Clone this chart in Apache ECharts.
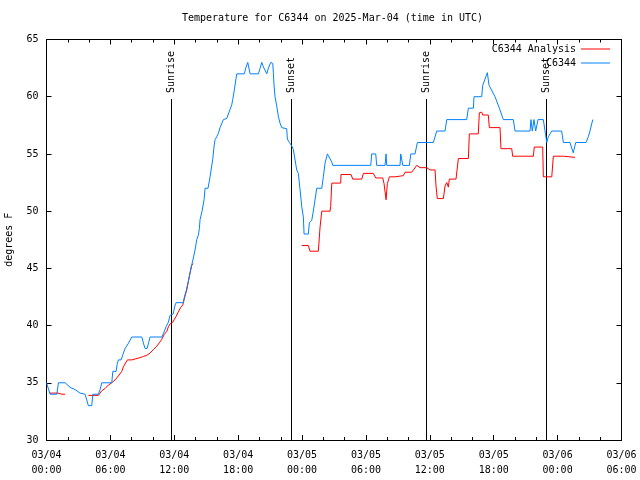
<!DOCTYPE html>
<html>
<head>
<meta charset="utf-8">
<script src="https://cdn.jsdelivr.net/npm/echarts@6/dist/echarts.min.js"></script>
<style>
html,body{margin:0;padding:0;background:#fff;}
#chart{width:640px;height:480px;}
</style>
</head>
<body>
<div id="chart"></div>
<script>
// Hours since 2025-03-04 00:00 UTC
var xTickLabels = ['03/04\n00:00','03/04\n06:00','03/04\n12:00','03/04\n18:00','03/05\n00:00','03/05\n06:00','03/05\n12:00','03/05\n18:00','03/06\n00:00','03/06\n06:00'];

var analysisSeg1 = [[0.30,34.1],[1.09,34.1],[1.44,34.0],[1.75,34.0]];
var analysisSeg2 = [[3.93,33.9],[4.87,33.9],[5.03,34.1],[5.19,34.3],[5.50,34.5],[5.81,34.8],[6.13,35.0],[6.44,35.25],[6.75,35.6],[7.07,36.0],[7.22,36.4],[7.60,37.0],[8.01,37.0],[8.16,37.1],[8.79,37.2],[9.10,37.3],[9.42,37.4],[9.73,37.6],[10.04,37.9],[10.36,38.2],[10.60,38.5],[10.83,38.8],[11.04,39.2],[11.30,39.5],[11.45,39.9],[11.61,40.15],[11.86,40.3],[11.98,40.5],[12.17,40.8],[12.38,41.2],[12.61,41.6],[12.80,41.8],[12.85,42.0],[13.01,42.6],[13.17,43.1],[13.32,43.85],[13.48,44.6],[13.64,45.3],[13.79,45.4]];
var analysisSeg3 = [[23.97,47.0],[24.59,47.0],[24.75,46.5],[25.53,46.5],[25.69,48.6],[25.85,50.0],[26.63,50.0],[26.69,50.4],[26.79,52.45],[27.63,52.45],[27.66,53.2],[28.60,53.2],[28.76,52.8],[29.61,52.8],[29.76,53.3],[30.69,53.3],[30.92,52.9],[31.58,52.9],[31.70,52.4],[31.89,51.0],[32.01,52.4],[32.20,53.0],[32.73,53.0],[32.82,53.1],[33.51,53.1],[33.67,53.4],[34.30,53.4],[34.45,53.5],[34.77,54.0],[35.08,53.8],[35.71,53.8],[36.02,53.6],[36.49,53.6],[36.58,52.2],[36.70,51.1],[37.27,51.1],[37.43,52.2],[37.59,52.5],[37.74,52.1],[37.83,52.8],[38.46,52.8],[38.68,54.6],[39.62,54.6],[39.71,56.75],[40.55,56.75],[40.65,58.6],[40.87,58.65],[40.97,58.4],[41.49,58.4],[41.59,57.3],[42.59,57.3],[42.68,55.46],[43.69,55.46],[43.78,54.8],[45.72,54.8],[45.81,55.6],[46.60,55.6],[46.66,53.0],[47.45,53.0],[47.60,54.8],[48.54,54.8],[48.69,54.7],[49.63,54.7]];

var observed = [[0.0,35],[0.34,34],[0.97,34],[1.12,35],[1.75,35],[2.22,34.6],[2.69,34.4],[3.15,34.1],[3.62,34.0],[3.78,33.5],[3.93,33],[4.25,33],[4.35,34],[4.87,34],[5.03,34.4],[5.19,35],[6.13,35],[6.23,36],[6.54,36],[6.63,36.6],[6.75,37],[7.00,37],[7.19,37.5],[7.38,38],[7.66,38.4],[8.01,39],[8.95,39],[9.12,38.4],[9.26,38],[9.45,38],[9.59,38.5],[9.73,39],[10.85,39],[10.98,39.3],[11.23,39.9],[11.45,40.3],[11.54,40.65],[11.61,40.9],[11.77,40.9],[11.89,41],[12.08,41.8],[12.17,42],[12.85,42],[12.95,42.5],[13.11,43],[13.23,43.5],[13.32,43.85],[13.48,44.6],[13.64,45.3],[13.79,45.9],[13.95,46.6],[14.11,47.5],[14.26,47.9],[14.36,48.5],[14.42,49.25],[14.61,50],[14.80,51],[14.89,52],[15.17,52],[15.36,53],[15.62,54.6],[15.74,55.7],[15.83,56.25],[15.99,56.5],[16.14,56.8],[16.30,57.3],[16.61,58],[16.93,58.1],[17.24,58.9],[17.40,59.3],[17.49,59.75],[17.64,60.6],[17.80,61.6],[17.87,62],[18.58,62],[18.71,62.5],[18.90,63],[19.12,62],[19.90,62],[20.06,62.5],[20.22,63],[20.37,62.6],[20.69,62],[20.84,62.5],[21.06,63],[21.25,62.9],[21.31,62],[21.37,61],[21.46,60],[21.62,59.2],[21.77,58.3],[21.93,57.7],[22.09,57.3],[22.56,57.2],[22.62,56.3],[22.81,56],[23.03,55.7],[23.18,55.4],[23.50,53.6],[23.65,53.3],[23.81,51.9],[23.97,50.4],[24.12,49.5],[24.19,48],[24.59,48],[24.69,49],[24.91,49.2],[25.06,50],[25.22,50.1],[25.38,52],[25.85,52],[26.00,53],[26.16,54.2],[26.38,55],[26.56,55],[26.79,54.3],[26.88,54],[30.45,54],[30.54,55],[30.92,55],[31.01,54],[31.79,54],[31.89,55],[31.95,54],[33.20,54],[33.27,55],[33.36,55],[33.46,54],[34.08,54],[34.21,55],[34.61,55],[34.83,56],[36.33,56],[36.65,57],[37.43,57],[37.59,58],[39.46,58],[39.62,59],[40.09,59],[40.15,60],[40.87,60],[40.97,61],[41.40,62.1],[41.56,61],[42.12,60],[42.53,59],[42.90,58],[43.84,58],[44.00,57],[45.41,57],[45.50,58],[45.62,57],[45.69,57],[45.78,58],[45.94,57],[46.16,58],[46.66,58],[46.82,57],[46.98,56],[47.13,56.5],[47.45,57],[48.38,57],[48.54,56],[49.16,56],[49.47,55.1],[49.70,56],[50.67,56],[50.88,56.5],[51.04,57],[51.30,58]];

var sunHours = [11.67, 22.94, 35.61, 46.91];
var sunLabels = ['Sunrise', 'Sunset', 'Sunrise', 'Sunset'];
var sunLineTop = 59.8;

var FONT = '"DejaVu Sans Mono", "Liberation Mono", monospace';

var analysisData = analysisSeg1.concat([[2.5,'-']], analysisSeg2, [[18,'-']], analysisSeg3);

var chart = echarts.init(document.getElementById('chart'), null, {renderer: 'canvas'});

var commonTextStyle = {fontFamily: FONT, fontSize: 10, color: '#000'};

chart.setOption({
  animation: false,
  backgroundColor: '#fff',
  title: {
    text: 'Temperature for C6344 on 2025-Mar-04 (time in UTC)',
    left: 182, top: 13, padding: 0,
    textStyle: {fontFamily: FONT, fontSize: 10, fontWeight: 'normal', color: '#000'}
  },
  legend: [
    {data: ['C6344 Analysis'], right: 30, top: 44, padding: 0, align: 'right', icon: 'rect',
     itemWidth: 29, itemHeight: 1, textStyle: commonTextStyle},
    {data: ['C6344'], right: 30, top: 58, padding: 0, align: 'right', icon: 'rect',
     itemWidth: 29, itemHeight: 1, textStyle: commonTextStyle}
  ],
  grid: {left: 46.5, right: 18.5, top: 39.5, bottom: 40, containLabel: false, outerBoundsMode: 'none'},
  xAxis: [
    {type: 'value', min: 0, max: 54, interval: 6, position: 'bottom',
     axisLine: {show: true, onZero: false, lineStyle: {color: '#000', width: 1}},
     axisTick: {show: true, inside: true, length: 5, lineStyle: {color: '#000'}},
     minorTick: {show: true, splitNumber: 3, length: 3, lineStyle: {color: '#000'}},
     splitLine: {show: false}, minorSplitLine: {show: false},
     axisLabel: {show: true, margin: 8, lineHeight: 15, fontFamily: FONT, fontSize: 10, color: '#000',
       formatter: function (v) { return xTickLabels[Math.round(v / 6)]; }}},
    {type: 'value', min: 0, max: 54, interval: 6, position: 'top',
     axisLine: {show: true, onZero: false, lineStyle: {color: '#000', width: 1}},
     axisTick: {show: true, inside: true, length: 5, lineStyle: {color: '#000'}},
     minorTick: {show: true, splitNumber: 3, length: 3, lineStyle: {color: '#000'}},
     splitLine: {show: false}, axisLabel: {show: false}}
  ],
  yAxis: [
    {type: 'value', min: 30, max: 65, interval: 5, position: 'left',
     name: 'degrees F', nameLocation: 'middle', nameRotate: 90, nameGap: 32,
     nameTextStyle: {fontFamily: FONT, fontSize: 10, color: '#000'},
     axisLine: {show: true, onZero: false, lineStyle: {color: '#000', width: 1}},
     axisTick: {show: true, inside: true, length: 5, lineStyle: {color: '#000'}},
     splitLine: {show: false},
     axisLabel: {show: true, margin: 8, fontFamily: FONT, fontSize: 10, color: '#000'}},
    {type: 'value', min: 30, max: 65, interval: 5, position: 'right',
     axisLine: {show: true, onZero: false, lineStyle: {color: '#000', width: 1}},
     axisTick: {show: true, inside: true, length: 5, lineStyle: {color: '#000'}},
     splitLine: {show: false}, axisLabel: {show: false}}
  ],
  series: [
    {
      type: 'custom', name: 'sun', xAxisIndex: 0, yAxisIndex: 0, clip: false, silent: true, z: 1,
      data: sunHours.map(function (h) { return [h]; }),
      renderItem: function (params, api) {
        var h = api.value(0);
        var top = api.coord([h, sunLineTop]);
        var bot = api.coord([h, 30]);
        var x = Math.round(top[0]) + 0.5;
        return {
          type: 'group',
          children: [
            {type: 'line', shape: {x1: x, y1: top[1], x2: x, y2: bot[1]}, style: {stroke: '#000', lineWidth: 1}},
            {type: 'text', x: x, y: top[1] - 6, rotation: Math.PI / 2,
             style: {text: sunLabels[params.dataIndex], x: 0, y: 0, align: 'left', verticalAlign: 'middle',
                     font: '10px ' + FONT, fill: '#000'}}
          ]
        };
      }
    },
    {
      type: 'line', name: 'C6344 Analysis', data: analysisData, showSymbol: false, symbol: 'none',
      connectNulls: false, color: '#ff0000', lineStyle: {color: '#ff0000', width: 1}, z: 2
    },
    {
      type: 'line', name: 'C6344', data: observed, showSymbol: false, symbol: 'none',
      color: '#0080ff', lineStyle: {color: '#0080ff', width: 1}, z: 3
    }
  ]
});
</script>
</body>
</html>
